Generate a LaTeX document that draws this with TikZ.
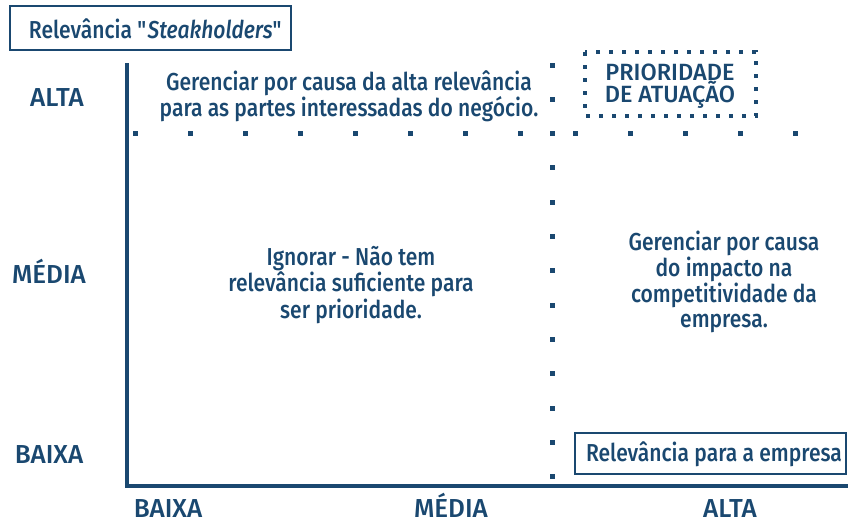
\documentclass[tikz,border=0pt]{standalone}
\usepackage{fontspec}
\setmainfont{Fira Sans}[UprightFont={* Medium},ItalicFont={* Medium Italic},FakeStretch=0.86]
\newfontfamily\lblfont{Fira Sans}[UprightFont={* Medium}]
\definecolor{navy}{HTML}{1A4870}
\begin{document}
\begin{tikzpicture}[x=1pt,y=-1pt,
  txt/.style={text=navy,font=\fontsize{24.5}{24}\selectfont,align=center,inner sep=0pt},
  lbl/.style={text=navy,font=\lblfont\fontsize{26}{26}\selectfont,inner sep=0pt,anchor=base},
  dotsq/.style={fill=navy},
  axisline/.style={draw=navy,line width=4pt},
  framebox/.style={draw=navy,line width=1.3pt}]
\useasboundingbox (0,0) rectangle (848,523);
% title box
\draw[framebox] (10,6) rectangle (291,50);
\node[txt] (title) at (156,29) {Relevância \textquotedbl\textit{Steakholders}\textquotedbl};
% axes
\coordinate (o) at (127,486);
\coordinate (ytop) at (127,63);
\coordinate (xend) at (848,486);
\draw[axisline] (ytop) -- (127,488);
\draw[axisline] (125,486) -- (xend);
% dotted row
\foreach \k in {0,...,12}{
  \fill[dotsq] ({135+55*\k-2.5},130.5) rectangle ++(5,5);
}
% dotted column
\foreach \k in {0,...,12}{
  \fill[dotsq] (549.5,{65+34.33*\k-2.5}) rectangle ++(5,5);
}
% priority dotted box
\draw[navy,line width=4pt,dash pattern=on 4pt off 9pt] (585,52) rectangle (756,116);
\node[txt,font=\lblfont\fontsize{23.5}{22}\selectfont] (prio) at (670,86) {PRIORIDADE\\DE ATUAÇÃO};
% company box
\draw[framebox] (575,433) rectangle (846,474);
\node[txt] (emp) at (714,454) {Relevância para a empresa};
% quadrant texts
\node[txt,font=\fontsize{24.5}{23}\selectfont] (t1) at (349,96) {Gerenciar por causa da alta relevância\\para as partes interessadas do negócio.};
\node[txt,font=\fontsize{24.5}{26.5}\selectfont] (t2) at (351,285) {Ignorar - Não tem\\relevância suficiente para\\ser prioridade.};
\node[txt,font=\fontsize{24.5}{24.7}\selectfont] (t3) at (724,282) {Gerenciar por causa\\do impacto na\\competitividade da\\empresa.};
% axis labels
\node[lbl] (ya) at (57,106) {ALTA};
\node[lbl] (ym) at (49,283) {MÉDIA};
\node[lbl] (yb) at (49,463) {BAIXA};
\node[lbl] (xb) at (168,517) {BAIXA};
\node[lbl] (xm) at (451,517) {MÉDIA};
\node[lbl] (xa) at (730,517) {ALTA};
\end{tikzpicture}
\end{document}
